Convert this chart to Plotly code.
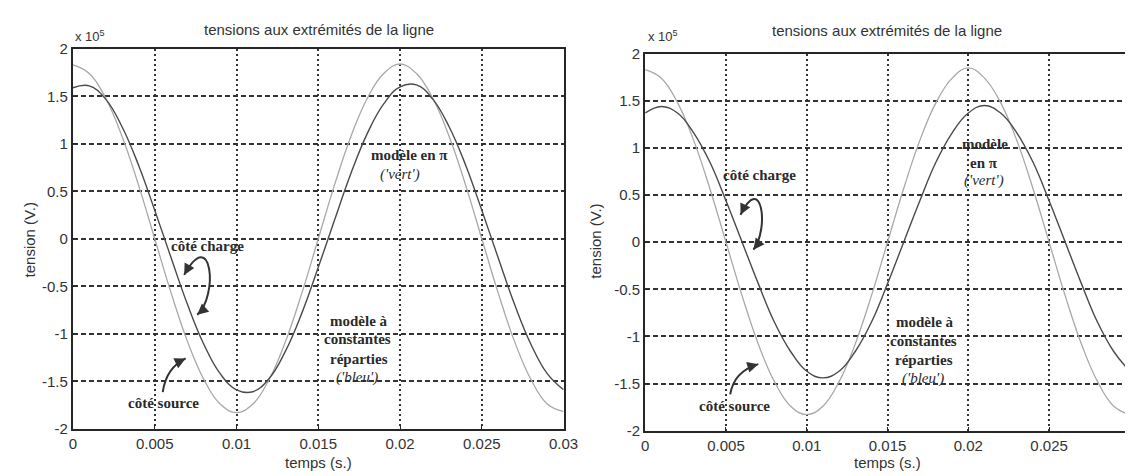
import plotly.graph_objects as go

# ---------------- data (voltages in units of 1e5 V) ----------------
t = [0.000, 0.001, 0.002, 0.003, 0.004, 0.005, 0.006, 0.007, 0.008, 0.009,
     0.010, 0.011, 0.012, 0.013, 0.014, 0.015, 0.016, 0.017, 0.018, 0.019,
     0.020, 0.021, 0.022, 0.023, 0.024, 0.025, 0.026, 0.027, 0.028, 0.029, 0.030]

left_source = [1.83, 1.74, 1.48, 1.08, 0.57, 0.00, -0.57, -1.08, -1.48, -1.74,
               -1.83, -1.74, -1.48, -1.08, -0.57, 0.00, 0.57, 1.08, 1.48, 1.74,
               1.84, 1.74, 1.48, 1.08, 0.57, 0.00, -0.57, -1.08, -1.48, -1.74, -1.82]
left_charge = [1.59, 1.61, 1.47, 1.18, 0.78, 0.30, -0.20, -0.69, -1.11, -1.42,
               -1.59, -1.61, -1.47, -1.18, -0.78, -0.30, 0.20, 0.69, 1.11, 1.42,
               1.60, 1.62, 1.47, 1.18, 0.78, 0.30, -0.20, -0.69, -1.11, -1.42, -1.59]

right_source = [1.83, 1.74, 1.48, 1.08, 0.57, 0.00, -0.57, -1.08, -1.48, -1.74,
                -1.83, -1.74, -1.48, -1.08, -0.57, 0.00, 0.57, 1.08, 1.48, 1.74,
                1.85, 1.74, 1.48, 1.08, 0.57, 0.00, -0.57, -1.08, -1.48, -1.74, -1.83]
right_charge = [1.37, 1.44, 1.37, 1.16, 0.85, 0.44, 0.00, -0.44, -0.85, -1.16,
                -1.37, -1.44, -1.37, -1.16, -0.85, -0.44, 0.00, 0.44, 0.85, 1.16,
                1.37, 1.45, 1.37, 1.16, 0.85, 0.44, 0.00, -0.44, -0.85, -1.16, -1.37]

x_tickvals = [0, 0.005, 0.01, 0.015, 0.02, 0.025, 0.03]
x_ticktext = ["0", "0.005", "0.01", "0.015", "0.02", "0.025", "0.03"]
y_tickvals = [-2, -1.5, -1, -0.5, 0, 0.5, 1, 1.5, 2]
y_ticktext = ["-2", "-1.5", "-1", "-0.5", "0", "0.5", "1", "1.5", "2"]

title_text = "tensions aux extrémités de la ligne"
xlabel_text = "temps (s.)"
ylabel_text = "tension (V.)"

# ---------------- figure ----------------
W, H = 1133, 476
SRC_COLOR = "#a8a8a8"
CHG_COLOR = "#4a4a4a"
INK = "#262626"

fig = go.Figure()
fig.add_trace(go.Scatter(x=t, y=left_source, mode="lines",
                         line=dict(color=SRC_COLOR, width=1.3, shape="spline", smoothing=1.2),
                         xaxis="x", yaxis="y", showlegend=False, hoverinfo="skip"))
fig.add_trace(go.Scatter(x=t, y=left_charge, mode="lines",
                         line=dict(color=CHG_COLOR, width=1.4, shape="spline", smoothing=1.2),
                         xaxis="x", yaxis="y", showlegend=False, hoverinfo="skip"))
fig.add_trace(go.Scatter(x=t, y=right_source, mode="lines",
                         line=dict(color=SRC_COLOR, width=1.3, shape="spline", smoothing=1.2),
                         xaxis="x2", yaxis="y2", showlegend=False, hoverinfo="skip"))
fig.add_trace(go.Scatter(x=t, y=right_charge, mode="lines",
                         line=dict(color=CHG_COLOR, width=1.4, shape="spline", smoothing=1.2),
                         xaxis="x2", yaxis="y2", showlegend=False, hoverinfo="skip"))

def px_x(p):
    return p / W

def px_y(p):
    return 1 - p / H

tickfont = dict(family="Liberation Sans, Arial, sans-serif", size=15, color="#333")

common_x = dict(tickvals=x_tickvals, ticktext=x_ticktext, showgrid=True, gridcolor="#333",
                griddash="2px,3px", gridwidth=1.5, zeroline=False, showline=True,
                linecolor=INK, linewidth=2.2, ticks="inside", ticklen=4, tickcolor=INK,
                tickfont=tickfont, fixedrange=True)
common_y = dict(tickvals=y_tickvals, ticktext=y_ticktext, showgrid=True, gridcolor="#333",
                griddash="5px,3px", gridwidth=1.5, zeroline=False, showline=True,
                linecolor=INK, linewidth=2.2, ticks="inside", ticklen=4, tickcolor=INK,
                tickfont=tickfont, range=[-2, 2], fixedrange=True)

fig.update_layout(
    width=W, height=H,
    margin=dict(l=0, r=0, t=0, b=0),
    paper_bgcolor="white", plot_bgcolor="white",
    xaxis=dict(domain=[px_x(62), px_x(561)], range=[0, 0.03], anchor="y", mirror=True, **common_x),
    yaxis=dict(domain=[px_y(427), px_y(33)], anchor="x", mirror=True, **common_y),
    xaxis2=dict(domain=[px_x(644), 1.0], range=[0, 0.02976], anchor="y2", mirror=True, **common_x),
    yaxis2=dict(domain=[px_y(429), px_y(38)], anchor="x2", mirror=False, **common_y),
)

sans = "Liberation Sans, Arial, sans-serif"
serif = "Liberation Serif, Times New Roman, serif"
ann = []
# titles and axis labels (paper coords)
for cx, ty, x10, ylx, yly in [(312, 13, 62, 18, 231), (890, 14, 645, 594, 233)]:
    ann.append(dict(text=title_text, x=px_x(cx), y=px_y(ty), xref="paper", yref="paper",
                    xanchor="center", yanchor="middle",
                    showarrow=False, font=dict(family=sans, size=15, color="#333")))
    ann.append(dict(text="x 10<sup>5</sup>", x=px_x(x10), y=px_y(20), xref="paper", yref="paper",
                    xanchor="left", yanchor="middle",
                    showarrow=False, font=dict(family=sans, size=13, color="#333")))
    ann.append(dict(text=xlabel_text, x=px_x(cx), y=px_y(462), xref="paper", yref="paper",
                    xanchor="center", yanchor="middle",
                    showarrow=False, font=dict(family=sans, size=15, color="#333")))
    ann.append(dict(text=ylabel_text, x=px_x(ylx), y=px_y(yly), xref="paper", yref="paper",
                    xanchor="center", yanchor="middle",
                    showarrow=False, textangle=-90, font=dict(family=sans, size=15, color="#333")))

def txt(s, x, y, ax="x", ay="y", italic=False):
    f = dict(family=serif, size=15, color="#2a2a2a")
    if italic:
        s = "<i>" + s + "</i>"
    else:
        s = "<b>" + s + "</b>"
    return dict(text=s, x=x, y=y, xref=ax, yref=ay, showarrow=False, font=f,
                xanchor="center", yanchor="middle")

# left plot texts
ann += [
    txt("modèle en π", 0.0206, 0.88),
    txt("('vert')", 0.0200, 0.68, italic=True),
    txt("côté charge", 0.0082, -0.08),
    txt("côté source", 0.00554, -1.733),
    txt("modèle à", 0.01746, -0.865),
    txt("constantes", 0.01742, -1.057),
    txt("réparties", 0.01746, -1.267),
    txt("('bleu')", 0.01735, -1.463, italic=True),
]
# right plot texts
ann += [
    txt("modèle", 0.02104, 1.044, "x2", "y2"),
    txt("en π", 0.02095, 0.84, "x2", "y2"),
    txt("('vert')", 0.02095, 0.655, "x2", "y2", italic=True),
    txt("côté charge", 0.0071, 0.71, "x2", "y2"),
    txt("côté source", 0.00552, -1.733, "x2", "y2"),
    txt("modèle à", 0.01732, -0.848, "x2", "y2"),
    txt("constantes", 0.01722, -1.05, "x2", "y2"),
    txt("réparties", 0.01727, -1.253, "x2", "y2"),
    txt("('bleu')", 0.01722, -1.446, "x2", "y2", italic=True),
]

def head(x, y, tx, ty, xr="x", yr="y"):
    return dict(x=x, y=y, ax=tx, ay=ty, xref=xr, yref=yr, axref=xr, ayref=yr, text="",
                showarrow=True, arrowhead=2, arrowsize=1.1, arrowwidth=2, arrowcolor="#333",
                standoff=0, startstandoff=0)

ann += [
    head(0.0068, -0.38, 0.0071, -0.286),
    head(0.0076, -0.80, 0.00805, -0.732),
    head(0.00689, -1.26, 0.00635, -1.305),
    head(0.0059, 0.29, 0.00616, 0.382, "x2", "y2"),
    head(0.0067, -0.08, 0.00706, 0.002, "x2", "y2"),
    head(0.00700, -1.294, 0.00642, -1.324, "x2", "y2"),
]

shapes = [
    dict(type="path", xref="x", yref="y", path="M 0.0068,-0.38 C 0.0085,0.15 0.0089,-0.60 0.0076,-0.80",
         line=dict(color="#333", width=2)),
    dict(type="path", xref="x", yref="y", path="M 0.00549,-1.615 Q 0.0057,-1.36 0.00689,-1.26",
         line=dict(color="#333", width=2)),
    dict(type="path", xref="x2", yref="y2", path="M 0.0059,0.29 C 0.0072,0.75 0.0077,0.15 0.0067,-0.08",
         line=dict(color="#333", width=2)),
    dict(type="path", xref="x2", yref="y2", path="M 0.00526,-1.615 Q 0.0055,-1.37 0.00700,-1.294",
         line=dict(color="#333", width=2)),
]

fig.update_layout(annotations=ann, shapes=shapes)
fig.write_html("out.html")
